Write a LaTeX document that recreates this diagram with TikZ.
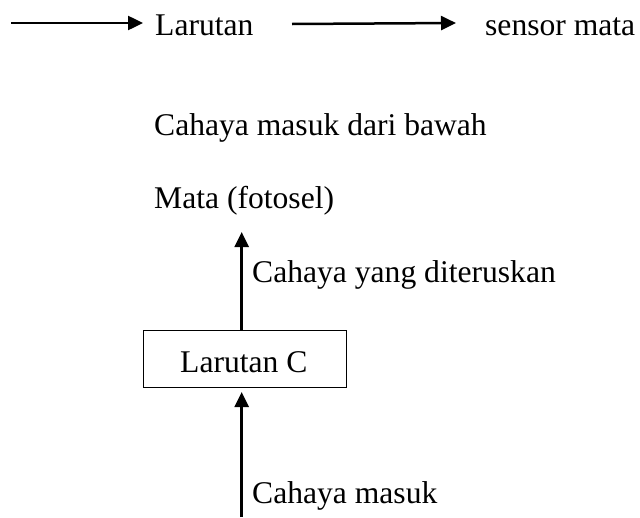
\documentclass[tikz,border=0pt]{standalone}
\usepackage{fontspec}
\setmainfont{Liberation Serif}
\usetikzlibrary{arrows.meta}
\tikzset{
  lbl/.style={anchor=base west, inner sep=0pt, font=\fontsize{31.6}{38}\selectfont},
  arr/.style={line width=2.5pt, -{Triangle[width=14pt,length=15pt]}},
  boxstyle/.style={draw, line width=1pt, minimum width=203pt, minimum height=57pt, inner sep=0pt}
}
\begin{document}
\begin{tikzpicture}[x=1pt,y=-1pt]
\useasboundingbox[fill=white] (0,0) rectangle (640,517);
% top row
\coordinate (a1s) at (11,23);
\coordinate (a1e) at (143,23);
\node[lbl] (lar) at (155,35) {Larutan};
\coordinate (a2s) at (292,24);
\coordinate (a2e) at (456,23);
\node[lbl] (sens) at (485,35) {sensor mata};
\draw[arr] (a1s) -- (a1e);
\draw[arr] (a2s) -- (a2e);
% texts
\node[lbl] (cmdb) at (154,135) {Cahaya masuk dari bawah};
\node[lbl] (mata) at (154,208) {Mata (fotosel)};
% box
\node[boxstyle] (box) at (244.5,358.5) {};
\node[lbl] (larc) at (180,372) {Larutan C};
\coordinate (uptip) at (241.7,232);
\coordinate (lotip) at (241.7,392);
\coordinate (lostart) at (241.7,517);
\draw[arr] (box.north -| uptip) -- (uptip);
\draw[arr] (lostart) -- (lotip);
\node[lbl] (cyd) at (252,282) {Cahaya yang diteruskan};
\node[lbl] (cm) at (252,503) {Cahaya masuk};
\end{tikzpicture}
\end{document}
